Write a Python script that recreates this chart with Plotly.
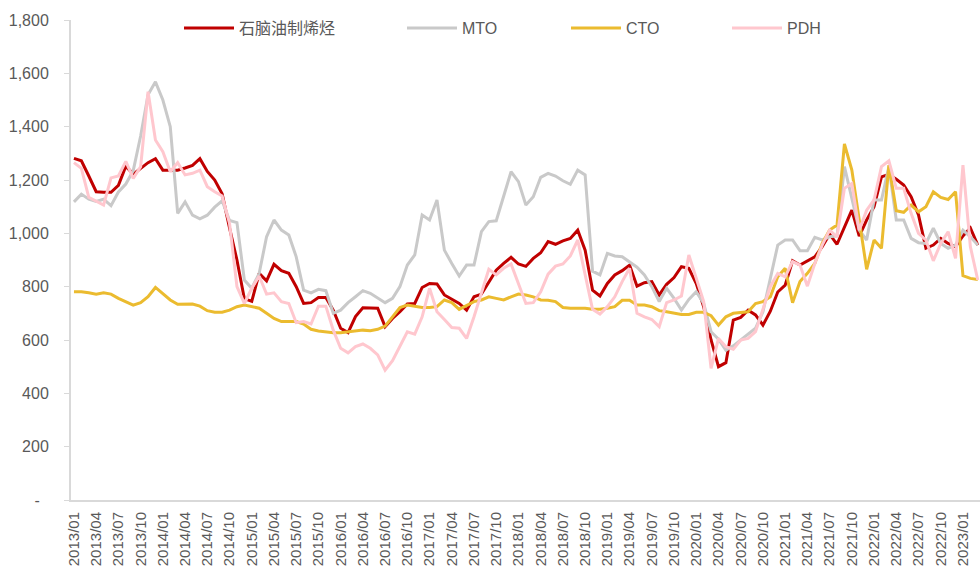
import plotly.graph_objects as go
import pandas as pd

# monthly categories 2013/01 .. 2023/03
months = pd.date_range('2013-01-01', '2023-03-01', freq='MS').strftime('%Y/%m').tolist()
tick_labels = months[::3]

naphtha = [1281, 1272, 1215, 1156, 1154, 1154, 1180, 1252, 1222, 1245,
           1265, 1280, 1237, 1237, 1237, 1245, 1255, 1280, 1232, 1200,
           1148, 1020, 900, 755, 745, 850, 822, 884, 860, 850,
           800, 737, 740, 759, 759, 712, 644, 628, 688, 721,
           721, 719, 650, 681, 706, 735, 737, 797, 812, 810,
           769, 752, 737, 712, 762, 772, 819, 862, 887, 910,
           885, 876, 906, 927, 969, 959, 972, 981, 1012, 937,
           787, 765, 812, 844, 860, 881, 802, 815, 819, 769,
           809, 834, 875, 869, 812, 725, 600, 500, 515, 675,
           685, 712, 694, 656, 708, 780, 806, 897, 881, 896,
           912, 950, 997, 959, 1025, 1087, 990, 1050, 1100, 1212,
           1221, 1203, 1181, 1137, 1069, 944, 956, 981, 962, 950,
           990, 1020, 956]
mto = [1118, 1147, 1128, 1120, 1128, 1104, 1155, 1185, 1235, 1365,
       1520, 1568, 1500, 1400, 1075, 1118, 1068, 1054, 1068, 1098,
       1122, 1048, 1040, 825, 794, 850, 987, 1050, 1012, 994,
       912, 787, 777, 790, 785, 700, 712, 740, 762, 785,
       775, 756, 740, 756, 800, 881, 919, 1069, 1050, 1125,
       937, 887, 840, 881, 881, 1006, 1044, 1047, 1144, 1231,
       1194, 1106, 1137, 1210, 1225, 1215, 1197, 1184, 1237, 1219,
       858, 844, 925, 915, 912, 894, 873, 844, 800, 744,
       794, 756, 712, 752, 781, 737, 631, 603, 562, 578,
       600, 620, 644, 706, 837, 956, 975, 975, 935, 935,
       985, 975, 987, 990, 1250, 1125, 1012, 975, 1125, 1125,
       1250, 1050, 1050, 981, 965, 962, 1019, 962, 944, 956,
       1012, 987, 956]
cto = [781, 781, 777, 772, 777, 772, 756, 744, 731, 740,
       762, 797, 772, 750, 734, 734, 735, 727, 710, 704,
       704, 712, 725, 731, 725, 719, 700, 681, 669, 670,
       669, 660, 640, 634, 631, 627, 627, 631, 635, 637,
       635, 640, 652, 687, 722, 731, 727, 722, 722, 725,
       750, 740, 715, 731, 744, 750, 762, 756, 750, 762,
       772, 769, 762, 750, 749, 744, 722, 719, 719, 719,
       715, 715, 719, 725, 749, 749, 731, 731, 725, 710,
       706, 700, 696, 696, 704, 704, 691, 656, 687, 700,
       704, 706, 737, 744, 762, 837, 869, 740, 819, 850,
       887, 962, 1012, 1031, 1335, 1237, 1050, 865, 975, 944,
       1256, 1085, 1079, 1106, 1081, 1100, 1156, 1135, 1127, 1156,
       841, 831, 827]
pdh = [1265, 1244, 1135, 1119, 1106, 1208, 1215, 1270, 1206, 1250,
       1531, 1350, 1306, 1231, 1265, 1219, 1225, 1237, 1175, 1156,
       1140, 1037, 800, 737, 794, 840, 772, 777, 744, 737,
       665, 669, 660, 727, 727, 637, 569, 552, 575, 585,
       569, 544, 487, 522, 575, 631, 622, 687, 794, 706,
       677, 647, 644, 606, 687, 775, 865, 844, 869, 885,
       810, 737, 740, 781, 847, 877, 885, 915, 975, 850,
       715, 697, 725, 762, 819, 869, 700, 687, 677, 650,
       740, 750, 765, 919, 831, 744, 494, 606, 575, 565,
       600, 606, 631, 712, 800, 850, 837, 894, 881, 802,
       887, 956, 1012, 987, 1169, 1187, 1012, 1087, 1125, 1250,
       1272, 1169, 1169, 1075, 1000, 975, 897, 962, 1006, 906,
       1256, 950, 825]

series_names = ['石脑油制烯烃', 'MTO', 'CTO', 'PDH']
series_colors = ['#C00000', '#C9C9C9', '#EBBB2F', '#FFC7CE']
y_ticks = [0, 200, 400, 600, 800, 1000, 1200, 1400, 1600, 1800]
y_tick_text = ['-\u00a0\u00a0', '200', '400', '600', '800',
               '1,000', '1,200', '1,400', '1,600', '1,800']

# pixel positions of the legend entries (left edge)
legend_px = [179, 402, 566, 727]
plot_left, plot_width = 71, 909

fig = go.Figure()
legend_ids = ['legend', 'legend2', 'legend3', 'legend4']
for name, vals, color, lid in zip(series_names, [naphtha, mto, cto, pdh], series_colors, legend_ids):
    fig.add_trace(go.Scatter(
        x=months, y=vals, name=name, mode='lines',
        line=dict(color=color, width=3),
        legend=lid,
    ))

legend_common = dict(
    orientation='h', xanchor='left', yanchor='middle', y=0.983,
    bgcolor='rgba(0,0,0,0)', itemwidth=50,
    font=dict(size=16, color='#595959'),
)
legends = {}
for lid, px in zip(legend_ids, legend_px):
    legends[lid] = dict(legend_common, x=(px - plot_left) / plot_width)

fig.update_layout(
    width=980, height=568,
    margin=dict(l=71, r=0, t=20, b=68, autoexpand=False),
    plot_bgcolor='white', paper_bgcolor='white',
    font=dict(family='Liberation Sans, Arial, Noto Sans CJK SC', color='#595959', size=16),
    showlegend=True,
    xaxis=dict(
        type='category', range=[-0.4, 122.3], automargin=False,
        tickmode='array', tickvals=tick_labels, ticktext=tick_labels,
        tickangle=-90, tickfont=dict(size=15), ticklabelstandoff=4,
        showline=True, linecolor='#D9D9D9', linewidth=2,
        showgrid=False, ticks='', zeroline=False,
    ),
    yaxis=dict(
        range=[0, 1800], tickmode='array', tickvals=y_ticks, ticktext=y_tick_text,
        showline=True, linecolor='#D9D9D9', linewidth=2, automargin=False,
        ticks='outside', ticklen=5, tickcolor='#D9D9D9', ticklabelstandoff=12,
        showgrid=False, zeroline=False, tickfont=dict(size=16),
    ),
    **legends,
)

# page has a default 8px body margin; drop it so the figure sits at the window corner
fig.write_html("out.html", config={'displayModeBar': False},
               post_script="document.body.style.margin='0';")
